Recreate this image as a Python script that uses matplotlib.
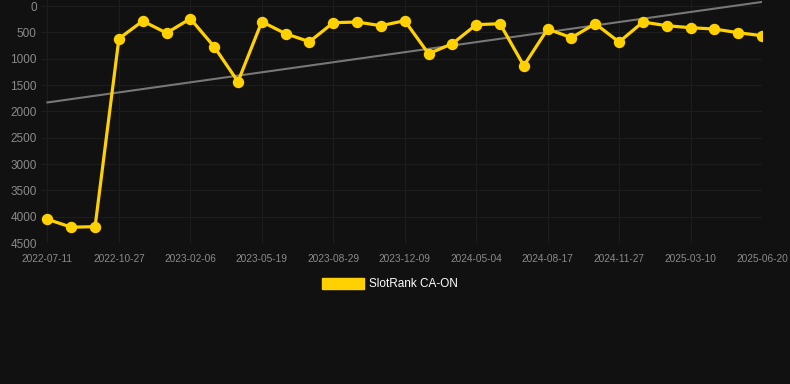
import numpy as np
import matplotlib
matplotlib.use('Agg')
import matplotlib.pyplot as plt
from matplotlib.patches import Patch

plt.rcParams['font.family'] = ['Liberation Sans', 'DejaVu Sans']

# SlotRank CA-ON ranks, one point per period (lower is better)
ranks = [4050, 4200, 4190, 620, 285, 513, 241, 773, 1437, 298,
         526, 678, 317, 304, 374, 279, 906, 716, 355, 336,
         1134, 437, 602, 336, 684, 304, 374, 412, 437, 507, 564]
tick_labels = ['2022-07-11', '2022-10-27', '2023-02-06', '2023-05-19',
               '2023-08-29', '2023-12-09', '2024-05-04', '2024-08-17',
               '2024-11-27', '2025-03-10', '2025-06-20']
y_ticks = [0, 500, 1000, 1500, 2000, 2500, 3000, 3500, 4000, 4500]

bg = '#111111'
yellow = '#FFD100'

x = np.arange(len(ranks))
slope, intercept = np.polyfit(x, ranks, 1)

fig = plt.figure(figsize=(7.9, 3.84), dpi=100, facecolor=bg)
ax = fig.add_axes([41 / 790, 1 - 243 / 384, (762 - 41) / 790, 243 / 384])
ax.set_facecolor(bg)

ax.plot(x, slope * x + intercept, color='#777777', lw=1.5, zorder=2)
ax.plot(x, ranks, color=yellow, lw=2.3, marker='o', ms=7.2, zorder=3)

ax.set_ylim(4500, -114)
ax.set_xlim(-0.27, 30)
ax.set_yticks(y_ticks)
ax.set_xticks(x[::3])
ax.set_xticklabels(tick_labels)

ax.grid(True, color='#1d1d1d', lw=0.8)
ax.set_axisbelow(True)
for s in ax.spines.values():
    s.set_visible(False)
ax.tick_params(axis='both', length=0, colors='#8a8a8a')
ax.tick_params(axis='y', labelsize=8.5, pad=3)
ax.tick_params(axis='x', labelsize=7.3, pad=8)

handle = Patch(facecolor=yellow, edgecolor=yellow)
fig.legend([handle], ['SlotRank CA-ON'], loc='center', bbox_to_anchor=(0.494, 0.26),
           frameon=False, fontsize=8.5, labelcolor='white',
           handlelength=3.5, handleheight=1.0, handletextpad=0.5)

fig.savefig('out.png', dpi=100, facecolor=bg)
